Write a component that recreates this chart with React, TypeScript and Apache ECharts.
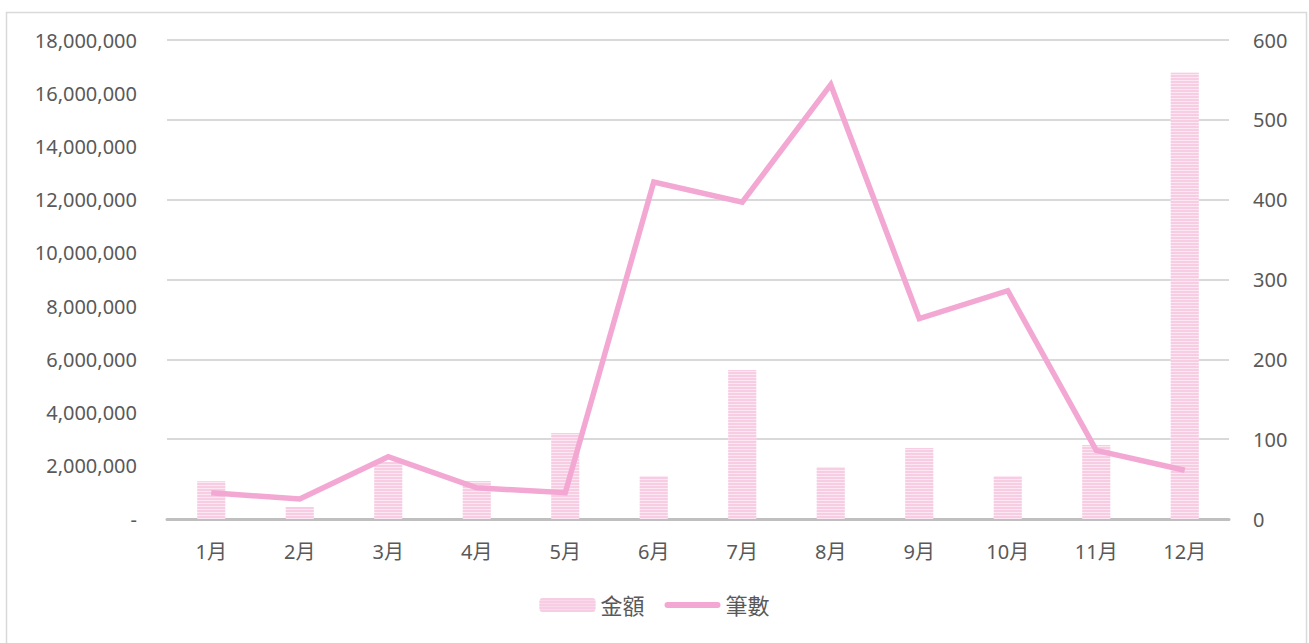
import React, { useEffect, useRef } from "react";
import * as echarts from "echarts";

const categories = ["1月", "2月", "3月", "4月", "5月", "6月", "7月", "8月", "9月", "10月", "11月", "12月"];
const amounts = [1420000, 450000, 2140000, 1430000, 3230000, 1620000, 5600000, 1950000, 2670000, 1620000, 2780000, 16770000];
const counts = [33, 25, 78, 39, 33, 422, 397, 544, 251, 286, 86, 61];
const leftMax = 18000000;
const leftInterval = 2000000;
const rightMax = 600;
const rightInterval = 100;

const FONT = "'Noto Sans', 'Noto Sans CJK TC', sans-serif";

export default function App() {
  const ref = useRef<HTMLDivElement>(null);
  useEffect(() => {
    if (!ref.current) return;
    const chart = echarts.init(ref.current, undefined, { renderer: "svg" });
    chart.setOption({
      animation: false,
      backgroundColor: "#ffffff",
      textStyle: { fontFamily: FONT },
      graphic: [
        {
          type: "rect",
          shape: { x: 6.5, y: 12.5, width: 1300, height: 640 },
          style: { fill: "none", stroke: "#d9d9d9", lineWidth: 1.5 },
          silent: true,
          z: -1,
        },
      ],
      grid: { left: 167, right: 80, top: 40, bottom: 124, containLabel: false },
      legend: {
        bottom: 22,
        left: "center",
        itemWidth: 56,
        itemHeight: 14,
        itemGap: 20,
        textStyle: { fontSize: 22, color: "#595959", fontFamily: FONT },
        data: [
          { name: "金額", itemStyle: { color: "#f9d9ea" } },
          { name: "筆數", icon: "path://M3,0 L53,0 A3,3 0 0 1 53,6 L3,6 A3,3 0 0 1 3,0 Z", itemStyle: { color: "#f2a8d3" } },
        ],
      },
      xAxis: {
        type: "category",
        data: categories,
        axisLine: { lineStyle: { color: "#bfbfbf", width: 3 } },
        axisTick: { show: false },
        axisLabel: { fontSize: 20, color: "#595959", margin: 22, fontFamily: FONT },
      },
      yAxis: [
        {
          type: "value",
          min: 0,
          max: leftMax,
          interval: leftInterval,
          splitLine: { show: false },
          axisLine: { show: false },
          axisTick: { show: false },
          axisLabel: {
            fontSize: 20,
            color: "#595959",
            margin: 30,
            fontFamily: FONT,
            formatter: (v: number) => (v === 0 ? "-" : v.toLocaleString("en-US")),
          },
        },
        {
          type: "value",
          min: 0,
          max: rightMax,
          interval: rightInterval,
          splitLine: { show: true, lineStyle: { color: "#d9d9d9", width: 2 } },
          axisLine: { show: false },
          axisTick: { show: false },
          axisLabel: { fontSize: 20, color: "#595959", margin: 24, fontFamily: FONT },
        },
      ],
      series: [
        {
          name: "金額",
          type: "bar",
          yAxisIndex: 0,
          data: amounts,
          barWidth: 28,
          itemStyle: {
            color: "#fce7f2",
            decal: {
              symbol: "rect",
              symbolSize: 1,
              dashArrayX: [1, 0],
              dashArrayY: [2, 1],
              rotation: 0,
              color: "#f7cde3",
            },
          },
        },
        {
          name: "筆數",
          type: "line",
          yAxisIndex: 1,
          data: counts,
          symbol: "none",
          lineStyle: { color: "#f2a8d3", width: 5.5, join: "miter" },
          itemStyle: { color: "#f2a8d3" },
        },
      ],
    });
    return () => chart.dispose();
  }, []);
  return (
    <div
      ref={ref}
      style={{ position: "absolute", left: 0, top: 0, width: 1309, height: 643 }}
    />
  );
}
